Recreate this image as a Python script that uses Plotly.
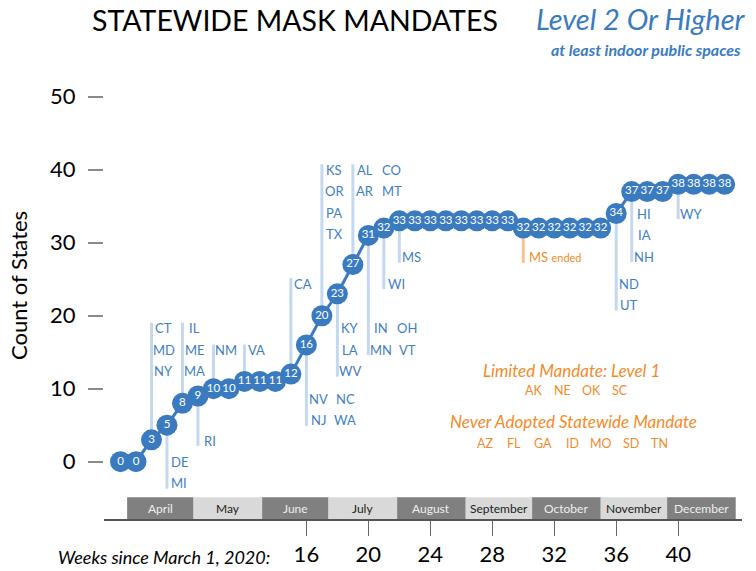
import datetime as dt
import plotly.graph_objects as go

# ---------------- data ----------------
weeks = list(range(4, 44))
counts = [0, 0, 3, 5, 8, 9, 10, 10, 11, 11, 11, 12, 16, 20, 23, 27, 31, 32,
          33, 33, 33, 33, 33, 33, 33, 33,
          32, 32, 32, 32, 32, 32,
          34, 37, 37, 37, 38, 38, 38, 38]

event_weeks = [6, 7, 8, 9, 10, 12, 15, 16, 17, 18, 19, 20, 21, 22, 30, 36, 37, 40]
event_states = [
    [["CT"], ["MD"], ["NY"]],
    [["DE"], ["MI"]],
    [["IL"], ["ME"], ["MA"]],
    [["RI"]],
    [["NM"]],
    [["VA"]],
    [["CA"]],
    [["NV", "NC"], ["NJ", "WA"]],
    [["KS"], ["OR"], ["PA"], ["TX"]],
    [["KY"], ["LA"], ["WV"]],
    [["AL", "CO"], ["AR", "MT"]],
    [["IN", "OH"], ["MN", "VT"]],
    [["WI"]],
    [["MS"]],
    [["MS ended"]],
    [["ND"], ["UT"]],
    [["HI"], ["IA"], ["NH"]],
    [["WY"]],
]
event_ended = [False] * 14 + [True] + [False] * 3

limited_states = ["AK", "NE", "OK", "SC"]
never_states = ["AZ", "FL", "GA", "ID", "MO", "SD", "TN"]

month_names = ["April", "May", "June", "July", "August", "September",
               "October", "November", "December"]
month_numbers = [4, 5, 6, 7, 8, 9, 10, 11, 12]

week_ticks = [16, 20, 24, 28, 32, 36, 40]
y_ticks = [0, 10, 20, 30, 40, 50]

# ---------------- layout helpers (positions, styles) ----------------
event_up = [True, False, True, False, True, True, True, False, True, False,
            True, False, False, False, False, False, False, False]
event_first_row = [18.3, 0.0, 18.3, 2.9, 15.3, 15.3, 24.4, 8.6, 40.0, 18.3,
                   40.0, 18.3, 24.4, 28.0, 28.0, 24.4, 34.0, 34.0]
ROW_STEP = 2.95

W, H = 756, 571
L, R, T, B = 104, 14, 60, 52
PW, PH = W - L - R, H - T - B
XR = [2.935, 44.12]
YR = [-7.85, 55.03]

FONT = "Lato"
BLUE = "#3a7bbf"
LABEL_BLUE = "#3f80c2"
LIGHT_BLUE = "#c4d9ee"
ORANGE = "#f38b2a"
LIGHT_ORANGE = "#f8c28d"


def px(xp):
    return (xp - L) / PW


def py(yp):
    return (T + PH - yp) / PH


def week_of(m):
    if m == 13:
        d = dt.date(2021, 1, 1)
    else:
        d = dt.date(2020, m, 1)
    return (d - dt.date(2020, 3, 1)).days / 7.0


def paper_text(x, y, text, size, color, xanchor="center", angle=0):
    return dict(x=px(x), y=py(y), xref="paper", yref="paper", xanchor=xanchor,
                yanchor="middle", showarrow=False, text=text, textangle=angle,
                font=dict(family=FONT, size=size, color=color))


fig = go.Figure()

shapes = []
annotations = []

# annotation lines and state labels
for wk, rows, up, r0, ended in zip(event_weeks, event_states, event_up,
                                   event_first_row, event_ended):
    cnt = counts[weeks.index(wk)]
    n = len(rows)
    last_row = r0 - ROW_STEP * (n - 1)
    end = r0 + 0.75 if up else last_row - 0.75
    shapes.append(dict(type="line", xref="x", yref="y", x0=wk, x1=wk,
                       y0=cnt, y1=end, layer="below",
                       line=dict(color=LIGHT_ORANGE if ended else LIGHT_BLUE,
                                 width=3)))
    for i, row in enumerate(rows):
        yv = r0 - ROW_STEP * i
        for j, st in enumerate(row):
            if ended:
                a, b = st.split(" ")
                annotations.append(dict(
                    x=wk, y=yv, xref="x", yref="y", xshift=4, showarrow=False,
                    xanchor="left", yanchor="middle",
                    text=f"{a} <span style='font-size:11px'>{b}</span>",
                    font=dict(family=FONT, size=13, color=ORANGE)))
            else:
                annotations.append(dict(
                    x=wk, y=yv, xref="x", yref="y", xshift=12.5 + 26.5 * j,
                    showarrow=False, xanchor="center", yanchor="middle",
                    text=st, font=dict(family=FONT, size=13, color=LABEL_BLUE)))

# month bands
for k, (name, m) in enumerate(zip(month_names, month_numbers)):
    x0, x1 = week_of(m), week_of(m + 1)
    dark = k % 2 == 0
    shapes.append(dict(type="rect", xref="x", yref="y", x0=x0, x1=x1,
                       y0=YR[0], y1=-4.88, line=dict(width=0),
                       fillcolor="#808080" if dark else "#d9d9d9", layer="below"))
    annotations.append(dict(x=(x0 + x1) / 2, y=(YR[0] - 4.88) / 2, xref="x",
                            yref="y", showarrow=False, text=name,
                            xanchor="center", yanchor="middle",
                            font=dict(family=FONT, size=12,
                                      color="#eeeeee" if dark else "#222222")))

# main series
fig.add_trace(go.Scatter(
    x=weeks, y=counts, mode="lines+markers+text",
    text=[str(c) for c in counts], textposition="middle center",
    textfont=dict(family=FONT, size=11.5, color="white"),
    marker=dict(size=21, color=BLUE, line=dict(width=0)),
    line=dict(color=BLUE, width=3), cliponaxis=False, hoverinfo="x+y",
    showlegend=False))

# titles and notes
annotations += [
    paper_text(90, 20, "STATEWIDE MASK MANDATES", 28.5, "black", "left"),
    paper_text(748, 18, "<i>Level 2 Or Higher</i>", 29, BLUE, "right"),
    paper_text(743, 50, "<b><i>at least indoor public spaces</i></b>", 16, BLUE,
               "right"),
    paper_text(18, 286, "Count of States", 22, "black", "center", -90),
    paper_text(571, 370, "<i>Limited Mandate: Level 1</i>", 17, ORANGE),
    paper_text(573, 421.7, "<i>Never Adopted Statewide Mandate</i>", 17, ORANGE),
    paper_text(272, 556.7, "<i>Weeks since March 1, 2020:</i>", 18, "black",
               "right"),
]
for i, st in enumerate(limited_states):
    annotations.append(paper_text(533.7 + 28.8 * i, 390.7, st, 12.5, ORANGE))
for i, st in enumerate(never_states):
    annotations.append(paper_text(485 + 29.1 * i, 443.3, st, 12.5, ORANGE))

fig.update_layout(
    width=W, height=H, margin=dict(l=L, r=R, t=T, b=B, pad=0),
    paper_bgcolor="white", plot_bgcolor="white",
    font=dict(family=FONT),
    shapes=shapes, annotations=annotations, showlegend=False,
    xaxis=dict(range=XR, tickvals=week_ticks, ticktext=[str(w) for w in week_ticks],
               ticks="outside", ticklen=15, tickwidth=1, tickcolor="#666666",
               showline=True, linecolor="#555555", linewidth=1.5,
               showgrid=False, zeroline=False, automargin=False,
               tickfont=dict(family=FONT, size=22, color="black")),
    yaxis=dict(range=YR, tickvals=y_ticks, ticktext=[str(v) for v in y_ticks],
               ticks="outside", ticklen=15, tickwidth=1.5, tickcolor="#8a8a8a",
               showline=False, showgrid=False, zeroline=False, automargin=False,
               ticklabelstandoff=8,
               tickfont=dict(family=FONT, size=22, color="black")),
)

fig.write_html(
    "out.html",
    config={"displayModeBar": False},
    post_script="document.body.style.margin='0';document.body.style.overflow='hidden';",
)
